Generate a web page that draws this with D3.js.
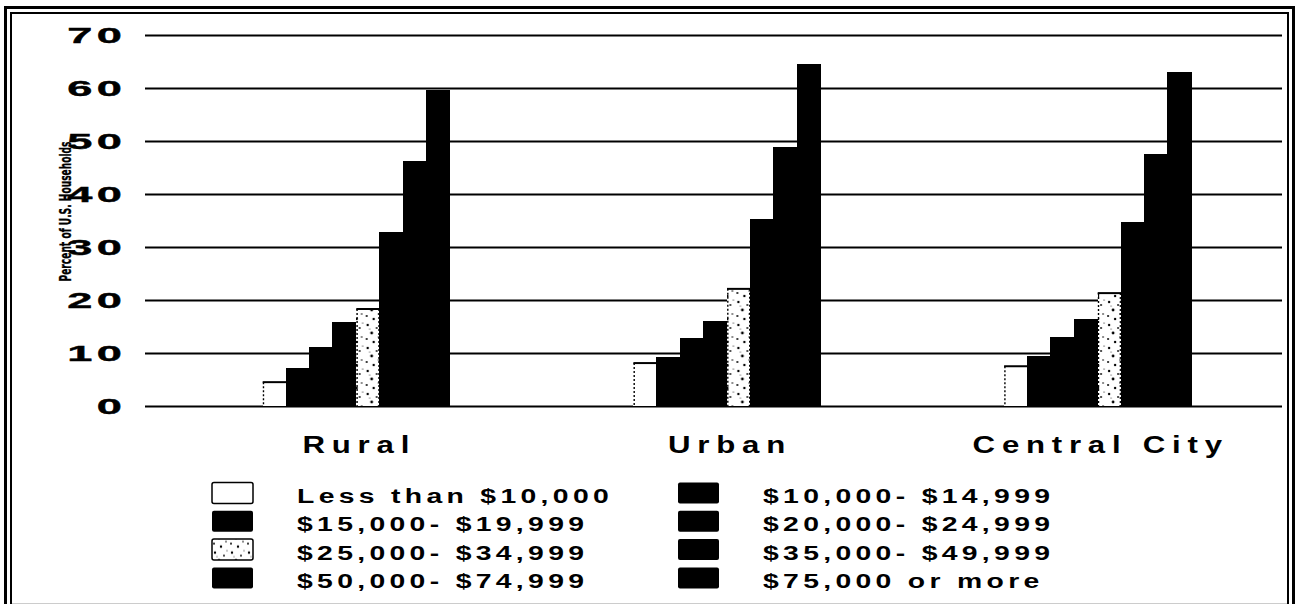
<!DOCTYPE html>
<html>
<head>
<meta charset="utf-8">
<script src="https://cdn.jsdelivr.net/npm/d3@7/dist/d3.min.js"></script>
<style>
  html, body { margin: 0; padding: 0; background: #fff; }
  svg { display: block; }
</style>
</head>
<body>
<svg id="chart" width="1302" height="604"></svg>
<script>
// Household share by income bracket, for three kinds of area
const groups = ["Rural", "Urban", "Central City"];
const incomeBrackets = [
  "Less than $10,000", "$10,000- $14,999",
  "$15,000- $19,999", "$20,000- $24,999",
  "$25,000- $34,999", "$35,000- $49,999",
  "$50,000- $74,999", "$75,000 or more"
];
const ruralValues       = [4.5, 7.1, 11.1, 15.8, 18.3, 32.8, 46.2, 59.6];
const urbanValues       = [8.1, 9.1, 12.8, 16.0, 22.1, 35.1, 48.7, 64.5];
const centralCityValues = [7.5, 9.4, 13.0, 16.4, 21.3, 34.7, 47.5, 63.0];
const yTickValues = [0, 10, 20, 30, 40, 50, 60, 70];
const yAxisTitle = "Percent of U.S. Households";

const seriesByGroup = {
  "Rural": ruralValues,
  "Urban": urbanValues,
  "Central City": centralCityValues
};
const rows = groups.flatMap(g =>
  incomeBrackets.map((b, i) => ({ group: g, bracket: b, index: i, value: seriesByGroup[g][i] }))
);

const svg = d3.select("#chart");

// Plot frame
const gridLeft = 145, gridRight = 1282;
const y = d3.scaleLinear().domain([0, 70]).range([406, 35]);
const x0 = d3.scaleBand().domain(groups).range([170, 1284])
  .paddingInner(0.495).paddingOuter(0.25);
const x1 = d3.scaleBand().domain(incomeBrackets).range([0, x0.bandwidth()]).padding(0);

// Sparse stipple texture for the $25,000-$34,999 bracket
const defs = svg.append("defs");
const pat = defs.append("pattern")
  .attr("id", "stipple").attr("patternUnits", "userSpaceOnUse")
  .attr("width", 17).attr("height", 23);
pat.append("rect").attr("width", 17).attr("height", 23).attr("fill", "#fff");
const dots = [[3,3,1.2],[12,6,0.9],[7,11,1.4],[14,15,0.8],[2,17,1.0],[9,20,1.2],[15,1,0.6],[5,7,0.5]];
pat.selectAll("circle").data(dots).join("circle")
  .attr("cx", d => d[0]).attr("cy", d => d[1]).attr("r", d => d[2]).attr("fill", "#000");

const isOpen = i => i === 0 || i === 4;
const fillFor = i => i === 0 ? "#fff" : (i === 4 ? "url(#stipple)" : "#000");

// Double frame
svg.append("rect").attr("x", 5.5).attr("y", 7.5).attr("width", 1288).attr("height", 620)
  .attr("fill", "none").attr("stroke", "#000").attr("stroke-width", 3);
svg.append("rect").attr("x", 11).attr("y", 13).attr("width", 1277).attr("height", 610)
  .attr("fill", "none").attr("stroke", "#000").attr("stroke-width", 2);
svg.append("line").attr("x1", 12).attr("x2", 1287).attr("y1", 603.5).attr("y2", 603.5)
  .attr("stroke", "#ccc").attr("stroke-width", 1);

// Horizontal gridlines
svg.append("g").selectAll("line").data(yTickValues).join("line")
  .attr("x1", gridLeft).attr("x2", gridRight)
  .attr("y1", d => Math.round(y(d)) + 0.5).attr("y2", d => Math.round(y(d)) + 0.5)
  .attr("stroke", "#000").attr("stroke-width", 1.8);

// Y tick labels: heavy, extended numerals
const tickG = svg.append("g");
yTickValues.forEach(v => {
  tickG.append("text")
    .attr("transform", `translate(126,${y(v) + 7.8}) scale(2.1,1)`)
    .attr("text-anchor", "end")
    .style("font-family", "'Liberation Sans', Arial, sans-serif")
    .style("font-weight", "bold").style("font-size", "21.5px")
    .style("letter-spacing", "2px")
    .style("stroke", "#000").style("stroke-width", "0.4px")
    .text(v);
});

// Axis title
svg.append("text")
  .attr("transform", `translate(70.5,211.5) rotate(-90)`)
  .attr("text-anchor", "middle")
  .attr("textLength", 140).attr("lengthAdjust", "spacingAndGlyphs")
  .style("font-family", "'Liberation Sans Narrow', 'Arial Narrow', 'DejaVu Sans Condensed', sans-serif")
  .style("font-weight", "bold").style("font-size", "15.5px")
  .style("stroke", "#000").style("stroke-width", "0.3px")
  .text(yAxisTitle);

// Bars
const barG = svg.append("g").selectAll("g").data(groups).join("g")
  .attr("transform", g => `translate(${x0(g)},0)`);
const bars = barG.selectAll("g")
  .data(g => rows.filter(r => r.group === g))
  .join("g");
bars.append("rect")
  .attr("x", d => x1(d.bracket))
  .attr("y", d => y(d.value))
  .attr("width", x1.bandwidth())
  .attr("height", d => y(0) - y(d.value))
  .attr("fill", d => fillFor(d.index))
  .attr("stroke", d => isOpen(d.index) ? "none" : "#000")
  .attr("stroke-width", 1)
  .attr("shape-rendering", "crispEdges");
// Outline of the open bars: solid top, dotted sides
const open = bars.filter(d => isOpen(d.index));
open.append("line")
  .attr("x1", d => x1(d.bracket)).attr("x2", d => x1(d.bracket) + x1.bandwidth())
  .attr("y1", d => y(d.value)).attr("y2", d => y(d.value))
  .attr("stroke", "#000").attr("stroke-width", 2);
open.append("line")
  .attr("x1", d => x1(d.bracket) + 0.8).attr("x2", d => x1(d.bracket) + 0.8)
  .attr("y1", d => y(d.value)).attr("y2", y(0))
  .attr("stroke", "#000").attr("stroke-width", 1.4).attr("stroke-dasharray", "2,2");
open.filter(d => d.index === 4).append("line")
  .attr("x1", d => x1(d.bracket) + x1.bandwidth() - 0.8).attr("x2", d => x1(d.bracket) + x1.bandwidth() - 0.8)
  .attr("y1", d => y(d.value)).attr("y2", y(0))
  .attr("stroke", "#000").attr("stroke-width", 1.2).attr("stroke-dasharray", "2,2");

// Group labels
svg.append("g").selectAll("text").data(groups).join("text")
  .attr("transform", g => `translate(${x0(g) + x0.bandwidth() / 2 + 3},453) scale(1.3,1)`)
  .attr("text-anchor", "middle")
  .style("font-family", "'Liberation Sans', Arial, sans-serif")
  .style("font-weight", "bold").style("font-size", "24px")
  .style("letter-spacing", "5.2px")
  .text(g => g);

// Legend: two columns, filled row by row
const legendCol = d3.scaleOrdinal().domain([0, 1]).range([212, 678]);
const legendRow = d3.scaleLinear().domain([0, 1]).range([493, 521.3]);
const legendTextOffset = 85;
const leg = svg.append("g").selectAll("g").data(incomeBrackets).join("g")
  .attr("transform", (b, i) => `translate(${legendCol(i % 2)},${legendRow(Math.floor(i / 2))})`);
leg.append("rect")
  .attr("x", 0).attr("y", -10.5).attr("width", 41).attr("height", 21).attr("rx", 2)
  .attr("fill", (b, i) => fillFor(i))
  .attr("stroke", (b, i) => isOpen(i) ? "#000" : "none")
  .attr("stroke-width", 1.5);
leg.append("text")
  .attr("transform", `translate(${legendTextOffset},10) scale(1.35,1)`)
  .style("font-family", "'Liberation Sans', Arial, sans-serif")
  .style("font-weight", "bold").style("font-size", "21px")
  .style("letter-spacing", "3.2px")
  .text(b => b);
</script>
</body>
</html>
